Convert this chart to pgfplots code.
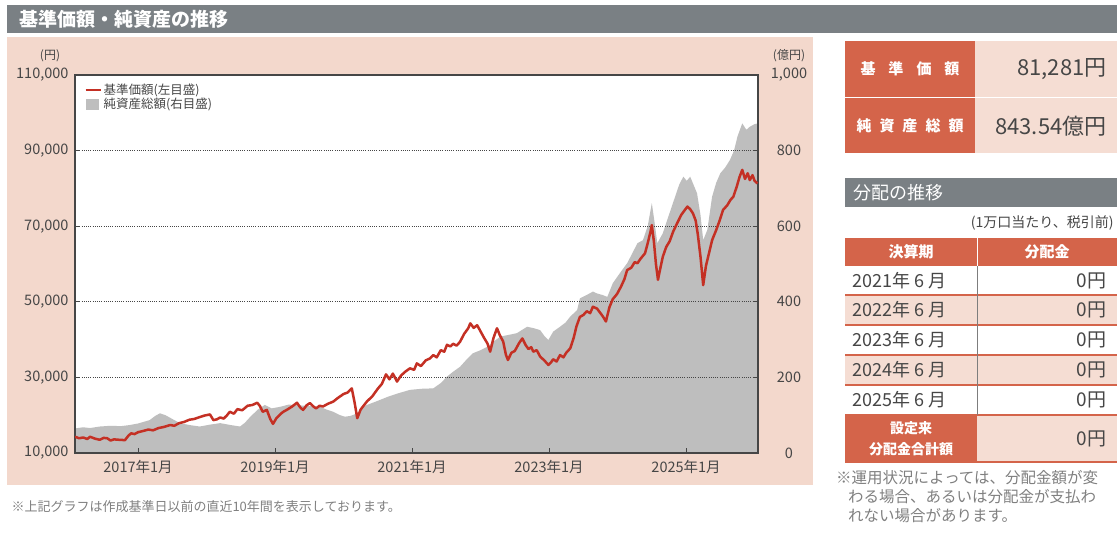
\documentclass[border=0pt]{standalone}
\usepackage{pgfplots}
\pgfplotsset{compat=1.18}
\usepackage{fontspec}
\setmainfont{Noto Sans CJK JP}

\definecolor{hdrgray}{RGB}{122,128,132}
\definecolor{panelpink}{RGB}{243,216,204}
\definecolor{navred}{RGB}{196,48,36}
\definecolor{areagray}{RGB}{190,190,190}
\definecolor{orng}{RGB}{212,100,74}
\definecolor{cellpink}{RGB}{245,221,211}
\definecolor{txt}{RGB}{70,70,70}

\newcommand{\fs}[1]{\fontsize{#1bp}{#1bp}\selectfont}

\begin{document}
\begin{tikzpicture}[x=1bp,y=1bp]
\useasboundingbox (0,0) rectangle (1117,537);
\fill[white] (0,0) rectangle (1117,537);

% header
\fill[hdrgray] (7,504) rectangle (1117,532);
\node[anchor=west,text=white,font=\fs{19}\bfseries] at (16,518) {基準価額・純資産の推移};

% chart panel
\fill[panelpink] (7,52) rectangle (813,500);
\node[text=txt,font=\fs{12}] at (50,481) {(円)};
\node[text=txt,font=\fs{12}] at (789,481) {(億円)};
\node[anchor=west,text=gray,font=\fs{13}] at (8,30) {※上記グラフは作成基準日以前の直近10年間を表示しております。};

% net assets, right scale
\begin{axis}[
  at={(75bp,84bp)}, anchor=south west,
  scale only axis, width=683bp, height=378bp,
  xmin=2016.08, xmax=2026.05, ymin=0, ymax=1000,
  axis x line=none, axis y line*=right,
  y axis line style={draw=none},
  axis background/.style={fill=white},
  major tick length=0pt,
  ytick={0,200,400,600,800,1000},
  yticklabels={0,200,400,600,800,{1,000}},
  yticklabel style={anchor=center,xshift=31bp,font=\fs{14.5},text=txt},
]
\addplot[fill=areagray, draw=none] coordinates {
(2016.08,65) (2016.20,68) (2016.30,66) (2016.44,70) (2016.60,72) (2016.75,71)
(2016.88,74) (2017.00,78) (2017.17,87) (2017.25,98) (2017.32,105) (2017.40,100)
(2017.45,95) (2017.55,85) (2017.61,79) (2017.75,74) (2017.90,70) (2018.05,75)
(2018.20,79) (2018.35,74) (2018.49,70) (2018.56,80) (2018.64,96) (2018.75,115)
(2018.85,127) (2018.95,118) (2019.07,122) (2019.20,128) (2019.36,126) (2019.50,124)
(2019.66,122) (2019.75,115) (2019.85,109) (2019.95,100) (2020.02,96) (2020.10,98)
(2020.20,105) (2020.27,118) (2020.34,127) (2020.50,138) (2020.65,149) (2020.80,158)
(2020.97,167) (2021.15,170) (2021.31,171) (2021.42,185) (2021.51,202) (2021.60,215)
(2021.70,228) (2021.80,248) (2021.89,264) (2022.00,272) (2022.10,281) (2022.20,296)
(2022.29,308) (2022.40,312) (2022.53,317) (2022.60,325) (2022.68,334) (2022.78,330)
(2022.87,325) (2022.93,310) (2022.99,299) (2023.06,321) (2023.16,334) (2023.24,345)
(2023.31,361) (2023.41,378) (2023.45,409) (2023.55,418) (2023.64,427) (2023.70,422)
(2023.78,418) (2023.85,413) (2023.93,449) (2024.05,480) (2024.14,502) (2024.22,530)
(2024.29,555) (2024.37,563) (2024.44,600) (2024.50,661) (2024.54,610) (2024.58,555)
(2024.66,581) (2024.75,630) (2024.84,678) (2024.90,710) (2024.96,731) (2025.01,720)
(2025.06,731) (2025.16,687) (2025.21,630) (2025.25,563) (2025.31,590) (2025.38,678)
(2025.44,715) (2025.50,740) (2025.57,755) (2025.64,775) (2025.70,800) (2025.75,837)
(2025.82,872) (2025.88,855) (2025.93,863) (2026.00,870) (2026.05,872)
} \closedcycle;
\end{axis}

% NAV, left scale
\begin{axis}[
  at={(75bp,84bp)}, anchor=south west,
  scale only axis, width=683bp, height=378bp,
  xmin=2016.08, xmax=2026.05, ymin=10000, ymax=110000,
  scaled y ticks=false,
  axis line style={draw=txt,line width=1.1bp},
  tick align=inside, major tick length=5bp,
  tick style={draw=txt,line width=1bp},
  xtick pos=bottom, ytick pos=both,
  xtick={2017,2019,2021,2023,2025},
  xticklabels={2017年1月,2019年1月,2021年1月,2023年1月,2025年1月},
  xticklabel style={font=\fs{14.5},text=txt,yshift=-4bp},
  ytick={10000,30000,50000,70000,90000,110000},
  yticklabels={{10,000},{30,000},{50,000},{70,000},{90,000},{110,000}},
  yticklabel style={font=\fs{14.5},text=txt,xshift=-3bp},
  ymajorgrids,
  grid style={draw=txt,line width=1bp,dash pattern=on 1bp off 1.2bp},
  legend style={at={(0.012,0.985)},anchor=north west,draw=none,fill=none,
    font=\fs{12.5},text=txt,row sep=-2bp,inner sep=1bp},
  legend cell align=left,
]
\addplot[navred, line width=2.5bp, line join=round,
  legend image code/.code={\draw[navred,line width=2.3bp] (0bp,0bp) -- (15bp,0bp);}] coordinates {
(2016.08,14300) (2016.14,13900) (2016.20,14100) (2016.26,13700) (2016.30,14300)
(2016.37,13800) (2016.44,13500) (2016.50,14000) (2016.55,13900) (2016.60,13300)
(2016.65,13600) (2016.72,13500) (2016.81,13400) (2016.86,14600) (2016.90,15200)
(2016.95,15000) (2017.00,15500) (2017.07,15800) (2017.15,16200) (2017.22,16000)
(2017.30,16600) (2017.38,16900) (2017.47,17400) (2017.53,17200) (2017.60,17900)
(2017.67,18200) (2017.75,18800) (2017.82,19000) (2017.90,19500) (2017.97,19900)
(2018.05,20200) (2018.10,18700) (2018.15,18900) (2018.20,19400) (2018.25,19100)
(2018.30,20000) (2018.34,20900) (2018.40,20400) (2018.45,21600) (2018.52,21300)
(2018.60,22500) (2018.67,22700) (2018.74,23300) (2018.78,22400) (2018.82,20900)
(2018.88,21400) (2018.93,19000) (2018.97,17700) (2019.02,19200) (2019.08,20300)
(2019.12,20900) (2019.18,21500) (2019.25,22300) (2019.32,23300) (2019.37,22000)
(2019.41,21400) (2019.46,22600) (2019.51,23200) (2019.56,22300) (2019.60,21800)
(2019.65,22500) (2019.70,22300) (2019.77,23000) (2019.85,23600) (2019.92,24600)
(2020.00,25600) (2020.06,26000) (2020.12,27100) (2020.16,23500) (2020.20,19200)
(2020.25,21500) (2020.34,23600) (2020.42,25000) (2020.50,27000) (2020.56,28300)
(2020.62,30800) (2020.67,29500) (2020.72,31000) (2020.78,28900) (2020.84,30500)
(2020.90,31500) (2020.97,32400) (2021.03,32000) (2021.07,33700) (2021.13,33000)
(2021.20,34500) (2021.26,35000) (2021.31,35900) (2021.36,35300) (2021.42,37200)
(2021.47,36800) (2021.51,38600) (2021.56,38200) (2021.60,38900) (2021.65,38400)
(2021.70,39400) (2021.76,41500) (2021.82,43000) (2021.85,44300) (2021.90,43100)
(2021.95,43800) (2021.99,42500) (2022.05,40500) (2022.10,39000) (2022.14,36800)
(2022.19,40500) (2022.24,43000) (2022.28,41200) (2022.33,39500) (2022.37,36000)
(2022.40,34600) (2022.45,36500) (2022.50,37000) (2022.56,39000) (2022.61,40300)
(2022.66,38500) (2022.70,37500) (2022.74,38000) (2022.77,36800) (2022.82,37200)
(2022.87,35500) (2022.93,34500) (2022.99,33300) (2023.03,34000) (2023.06,34800)
(2023.11,34200) (2023.16,35900) (2023.21,35300) (2023.25,36500) (2023.31,37700)
(2023.36,40500) (2023.40,43500) (2023.45,46000) (2023.50,46500) (2023.55,47500)
(2023.60,47000) (2023.64,48700) (2023.70,48200) (2023.75,47000) (2023.79,46000)
(2023.83,44800) (2023.88,48500) (2023.93,50700) (2023.99,52000) (2024.05,54000)
(2024.10,56000) (2024.14,58400) (2024.20,59000) (2024.25,60500) (2024.29,60200)
(2024.34,61500) (2024.40,62800) (2024.44,65500) (2024.48,68500) (2024.50,70300)
(2024.53,66000) (2024.56,60000) (2024.59,55800) (2024.62,58500) (2024.66,61900)
(2024.71,64500) (2024.76,66000) (2024.81,68500) (2024.87,70800) (2024.93,73000)
(2024.97,74000) (2025.02,75200) (2025.06,74500) (2025.10,73400) (2025.14,71500)
(2025.17,68000) (2025.21,62000) (2025.25,54400) (2025.29,59500) (2025.33,62500)
(2025.38,66300) (2025.44,69000) (2025.49,71500) (2025.54,74300) (2025.60,75500)
(2025.65,77000) (2025.69,77800) (2025.74,80500) (2025.78,83000) (2025.82,84900)
(2025.86,82500) (2025.90,84000) (2025.93,82200) (2025.97,83500) (2026.00,82000)
(2026.04,81300)
};
\addlegendentry{基準価額(左目盛)}
\addlegendimage{legend image code/.code={\fill[areagray] (1bp,-5bp) rectangle (13bp,5bp);}}
\addlegendentry{純資産総額(右目盛)}
\end{axis}

% right: key figures
\fill[orng] (845,384) rectangle (975,496);
\fill[cellpink] (975,384) rectangle (1117,496);
\draw[white,line width=1.2bp] (845,439.5) -- (1117,439.5);
\node[text=white,font=\fs{15}\bfseries] at (910,468) {基\hspace{13bp}準\hspace{13bp}価\hspace{13bp}額};
\node[text=white,font=\fs{15}\bfseries] at (910,411) {純\hspace{8bp}資\hspace{8bp}産\hspace{8bp}総\hspace{8bp}額};
\node[anchor=east,text=txt,font=\fs{22}] at (1110,468) {81,281円};
\node[anchor=east,text=txt,font=\fs{22}] at (1110,411) {843.54億円};

% right: distributions
\fill[hdrgray] (845,330) rectangle (1117,359);
\node[anchor=west,text=white,font=\fs{18}] at (850,344.5) {分配の推移};
\node[anchor=east,text=txt,font=\fs{14}] at (1117,314) {(1万口当たり、税引前)};
\fill[orng] (845,271) rectangle (1117,299);
\draw[white,line width=1bp] (977,271) -- (977,299);
\node[text=white,font=\fs{15}\bfseries] at (911,285) {決算期};
\node[text=white,font=\fs{15}\bfseries] at (1047,285) {分配金};
\fill[cellpink] (845,212) rectangle (1117,242);
\fill[cellpink] (845,152) rectangle (1117,182);
\fill[orng] (845,75) rectangle (977,122);
\fill[cellpink] (977,75) rectangle (1117,122);
\foreach \yy in {242,212,182,152,122} \draw[orng,line width=1.2bp] (845,\yy) -- (1117,\yy);
\draw[orng,line width=1.2bp] (845,75) -- (1117,75);
\draw[txt!70,line width=0.8bp] (977,122) -- (977,271);
\foreach \lab/\yy in {2021/256.5,2022/227,2023/197,2024/167,2025/137} {
  \node[anchor=west,text=txt,font=\fs{18}] at (849,\yy) {\lab 年 6 月};
  \node[anchor=east,text=txt,font=\fs{19}] at (1110,\yy) {0円};
}
\node[text=white,font=\fs{14}\bfseries] at (911,109) {設定来};
\node[text=white,font=\fs{14}\bfseries] at (911,88) {分配金合計額};
\node[anchor=east,text=txt,font=\fs{19}] at (1110,98.5) {0円};
\node[anchor=west,text=gray,font=\fs{15.5},inner sep=0pt] at (836,59) {※運用状況によっては、分配金額が変};
\node[anchor=west,text=gray,font=\fs{15.5},inner sep=0pt] at (848,40) {わる場合、あるいは分配金が支払わ};
\node[anchor=west,text=gray,font=\fs{15.5},inner sep=0pt] at (848,21) {れない場合があります。};
\end{tikzpicture}
\end{document}
